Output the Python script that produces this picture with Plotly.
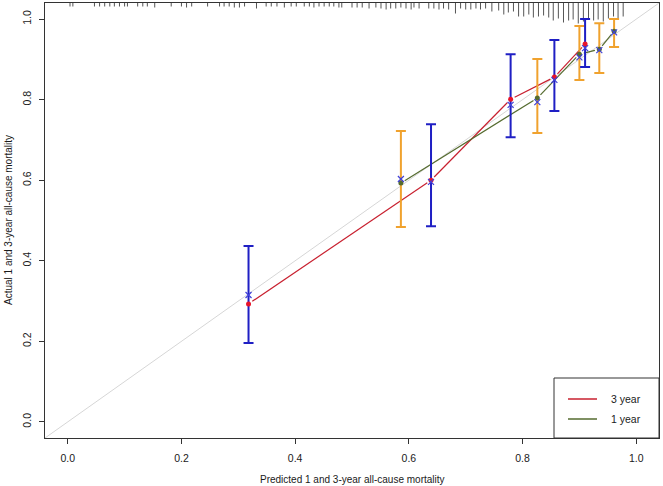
import plotly.graph_objects as go

# 3-year calibration (red line, blue CI bars)
pred_3y = [0.318, 0.639, 0.779, 0.856, 0.910]
obs_3y = [0.293, 0.600, 0.801, 0.856, 0.938]
corr_3y = [0.315, 0.596, 0.787, 0.849, 0.928]
lo_3y = [0.196, 0.486, 0.707, 0.772, 0.881]
hi_3y = [0.437, 0.739, 0.913, 0.948, 1.000]

# 1-year calibration (green line, orange CI bars)
pred_1y = [0.586, 0.826, 0.900, 0.935, 0.961]
obs_1y = [0.593, 0.804, 0.913, 0.925, 0.970]
corr_1y = [0.603, 0.794, 0.905, 0.923, 0.967]
lo_1y = [0.484, 0.717, 0.849, 0.866, 0.931]
hi_1y = [0.722, 0.901, 0.983, 0.990, 1.000]

# distribution of predicted values (rug along the top)
rug_x = [0.004, 0.009, 0.047, 0.056, 0.065, 0.074, 0.082, 0.091, 0.100, 0.105,
         0.123, 0.132, 0.140, 0.153, 0.182, 0.200, 0.209, 0.218, 0.246, 0.267,
         0.275, 0.284, 0.293, 0.302, 0.311, 0.332, 0.349, 0.358, 0.368, 0.381,
         0.393, 0.402, 0.416, 0.425, 0.433, 0.442, 0.451, 0.460, 0.468, 0.477,
         0.482, 0.500, 0.509, 0.518, 0.530, 0.542, 0.551, 0.560, 0.568, 0.577,
         0.586, 0.595, 0.604, 0.609, 0.618, 0.635, 0.644, 0.653, 0.661, 0.670,
         0.682, 0.691, 0.700, 0.709, 0.718, 0.726, 0.735, 0.746, 0.758, 0.767,
         0.775, 0.784, 0.793, 0.802, 0.811, 0.819, 0.828, 0.837, 0.846, 0.854,
         0.863, 0.872, 0.881, 0.889, 0.898, 0.907, 0.916, 0.925, 0.933, 0.942,
         0.951, 0.960, 0.968, 0.977]
rug_n = [2, 2, 2, 2, 2, 2, 2, 2, 2, 2, 2, 2, 2, 3, 2, 2, 3, 2, 2, 2,
         2, 2, 3, 3, 2, 4, 2, 2, 2, 3, 2, 2, 2, 2, 3, 2, 2, 2, 2, 3,
         3, 3, 3, 3, 4, 3, 4, 5, 4, 4, 3, 4, 5, 3, 4, 4, 4, 5, 4, 5,
         9, 4, 5, 5, 4, 5, 4, 7, 6, 10, 8, 7, 12, 12, 10, 13, 12, 11, 13, 16,
         14, 18, 16, 15, 19, 17, 14, 16, 15, 17, 14, 12, 15, 12]

legend_labels = ["3 year", "1 year"]

xr = [-0.04, 1.04]
yr = [-0.04, 1.04]
ticks = [0.0, 0.2, 0.4, 0.6, 0.8, 1.0]

RED_LINE = "#C8202F"
GREEN = "#556B2F"
BLUE = "#1F1FC4"
ORANGE = "#F0A22E"
XBLUE = "#4040D8"
FONT = "Liberation Sans, Arial"
TXT = "#1A1A1A"

W, H = 663, 486
M = dict(l=45, r=4, t=3, b=48)
PW = W - M["l"] - M["r"]
PH = H - M["t"] - M["b"]
pxx = PW / (xr[1] - xr[0])
pxy = PH / (yr[1] - yr[0])


def gapped(xs, ys, gap=4.5):
    # R type="b": segments stop short of the points
    gx, gy = [], []
    for i in range(len(xs) - 1):
        dx = (xs[i + 1] - xs[i]) * pxx
        dy = (ys[i + 1] - ys[i]) * pxy
        f = gap / (dx * dx + dy * dy) ** 0.5
        gx += [xs[i] + (xs[i + 1] - xs[i]) * f, xs[i + 1] - (xs[i + 1] - xs[i]) * f, None]
        gy += [ys[i] + (ys[i + 1] - ys[i]) * f, ys[i + 1] - (ys[i + 1] - ys[i]) * f, None]
    return gx, gy


fig = go.Figure()

# ideal line
fig.add_shape(type="line", x0=xr[0], y0=yr[0], x1=xr[1], y1=yr[1],
              line=dict(color="#D6D6D6", width=1), layer="below")

# rug
rx, ry = [], []
for x, n in zip(rug_x, rug_n):
    rx += [x, x, None]
    ry += [yr[1], yr[1] - (n + 1.5) / pxy, None]
fig.add_trace(go.Scatter(x=rx, y=ry, mode="lines", line=dict(color="#555555", width=1),
                         showlegend=False, hoverinfo="skip", cliponaxis=False))

gx, gy = gapped(pred_3y, obs_3y)
fig.add_trace(go.Scatter(x=gx, y=gy, mode="lines", showlegend=False,
                         line=dict(color=RED_LINE, width=1.2)))
gx, gy = gapped(pred_1y, obs_1y)
fig.add_trace(go.Scatter(x=gx, y=gy, mode="lines", showlegend=False,
                         line=dict(color=GREEN, width=1.2)))

# confidence bars
for px_, ob, lo, hi, col in [(pred_1y, obs_1y, lo_1y, hi_1y, ORANGE),
                             (pred_3y, obs_3y, lo_3y, hi_3y, BLUE)]:
    fig.add_trace(go.Scatter(
        x=px_, y=ob, mode="markers", marker=dict(size=1, opacity=0),
        error_y=dict(type="data", symmetric=False,
                     array=[h - o for h, o in zip(hi, ob)],
                     arrayminus=[o - l for o, l in zip(ob, lo)],
                     color=col, thickness=2, width=5),
        showlegend=False, hoverinfo="skip"))

# observed points
fig.add_trace(go.Scatter(x=pred_3y, y=obs_3y, mode="markers",
                         marker=dict(color="#E8142A", size=5), showlegend=False))
fig.add_trace(go.Scatter(x=pred_1y, y=obs_1y, mode="markers",
                         marker=dict(color=GREEN, size=5), showlegend=False))

# bias-corrected points
fig.add_trace(go.Scatter(x=pred_3y + pred_1y, y=corr_3y + corr_1y, mode="markers",
                         marker=dict(symbol="x-thin", size=6, line=dict(color=XBLUE, width=1.2)),
                         showlegend=False))


def px2paper(px, py):
    return (px - M["l"]) / PW, (H - M["b"] - py) / PH


# legend box, drawn like R's legend()
bx0, by0 = px2paper(554, 438)
bx1, by1 = px2paper(659, 378)
fig.add_shape(type="rect", xref="paper", yref="paper", x0=bx0, y0=by0, x1=bx1, y1=by1,
              line=dict(color="#333333", width=1), fillcolor="white")
for i, (lab, col) in enumerate(zip(legend_labels, [RED_LINE, GREEN])):
    lx0, ly = px2paper(568, 399 + 20 * i)
    lx1, _ = px2paper(597, 0)
    tx, _ = px2paper(609, 0)
    fig.add_shape(type="line", xref="paper", yref="paper", x0=lx0, x1=lx1, y0=ly, y1=ly,
                  line=dict(color=col, width=1.5))
    fig.add_annotation(xref="paper", yref="paper", x=tx, y=ly, text=lab, showarrow=False,
                       xanchor="left", yanchor="middle", font=dict(family=FONT, size=10.5, color=TXT))

# axis titles
tx, ty = px2paper(352, 479)
fig.add_annotation(xref="paper", yref="paper", x=tx, y=ty, text="Predicted 1 and 3-year all-cause mortality",
                   showarrow=False, xanchor="center", yanchor="middle", font=dict(family=FONT, size=10, color=TXT))
tx, ty = px2paper(8, 220)
fig.add_annotation(xref="paper", yref="paper", x=tx, y=ty, text="Actual 1 and 3-year all-cause mortality",
                   showarrow=False, textangle=-90, xanchor="center", yanchor="middle",
                   font=dict(family=FONT, size=10, color=TXT))

axis_common = dict(showline=True, linecolor="#333333", linewidth=1, mirror=True,
                   ticks="outside", ticklen=5, tickcolor="#333333", showgrid=False,
                   zeroline=False, tickvals=ticks, ticktext=[f"{t:.1f}" for t in ticks],
                   automargin=False, tickfont=dict(family=FONT, size=10.5, color=TXT))

fig.update_layout(
    width=W, height=H, margin=M, showlegend=False,
    plot_bgcolor="white", paper_bgcolor="white",
    xaxis=dict(range=xr, ticklabelstandoff=5, **axis_common),
    yaxis=dict(range=yr, tickangle=-90, ticklabelstandoff=4, **axis_common),
)

fig.write_html("out.html", config={"displayModeBar": False},
               post_script="document.body.style.margin='0px';")
